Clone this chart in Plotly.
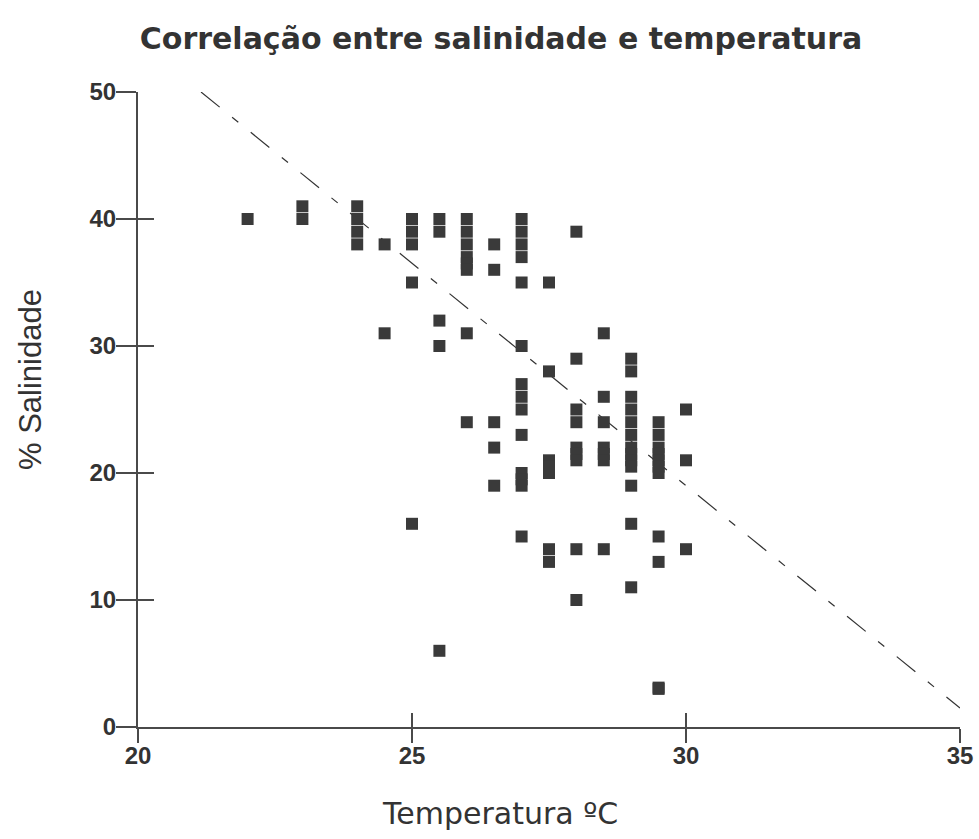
import plotly.graph_objects as go

# Temperature columns and salinity readings at each temperature
temp_22 = [40]
temp_23 = [41, 40]
temp_24 = [41, 40, 39, 38]
temp_24_5 = [38, 31]
temp_25 = [40, 39, 38, 35, 16]
temp_25_5 = [40, 39, 32, 30, 6]
temp_26 = [40, 39, 38, 37, 36.5, 36, 31, 24]
temp_26_5 = [38, 36, 24, 22, 19]
temp_27 = [40, 39, 38, 37, 35, 30, 27, 26, 25, 23, 20, 19.5, 19, 15]
temp_27_5 = [35, 28, 21, 20.5, 20, 14, 13]
temp_28 = [39, 29, 25, 24, 22, 21.5, 21, 14, 10]
temp_28_5 = [31, 26, 24, 22, 21.5, 21, 14]
temp_29 = [29, 28, 26, 25, 24, 23, 22, 21.5, 21, 20.5, 19, 16, 11]
temp_29_5 = [24, 23, 22, 21.5, 21, 20.5, 20, 15, 13, 3, 3.1]
temp_30 = [25, 21, 14]

temperatures = [22, 23, 24, 24.5, 25, 25.5, 26, 26.5, 27, 27.5, 28, 28.5, 29, 29.5, 30]
salinity_by_temp = [temp_22, temp_23, temp_24, temp_24_5, temp_25, temp_25_5, temp_26,
                    temp_26_5, temp_27, temp_27_5, temp_28, temp_28_5, temp_29, temp_29_5, temp_30]

# Trend line endpoints
trend_x = [21.15, 35]
trend_y = [50, 1.5]

x_ticks = [20, 25, 30, 35]
y_ticks = [0, 10, 20, 30, 40, 50]

pts_x, pts_y = [], []
for t, vals in zip(temperatures, salinity_by_temp):
    for v in vals:
        pts_x.append(t)
        pts_y.append(v)

AX = "#4a4a4a"
TXT = "#333333"

fig = go.Figure()
fig.add_trace(go.Scatter(
    x=trend_x, y=trend_y, mode="lines",
    line=dict(color="#333333", width=1.2, dash="24px,16px,8px,16px"),
    hoverinfo="skip", showlegend=False))
fig.add_trace(go.Scatter(
    x=pts_x, y=pts_y, mode="markers",
    marker=dict(symbol="square", size=12, color="#3a3a3a", line=dict(width=0)),
    showlegend=False))
# invisible trace to carry the overlay axes (inner halves of ticks)
fig.add_trace(go.Scatter(x=[None], y=[None], xaxis="x2", yaxis="y2",
                         mode="markers", showlegend=False, hoverinfo="skip"))

tickfont = dict(family="Liberation Sans, Arial, sans-serif", size=24, color=TXT, weight="bold")

fig.update_layout(
    width=979, height=839,
    margin=dict(l=138, r=19, t=92, b=112, autoexpand=False),
    paper_bgcolor="white", plot_bgcolor="white",
    title=dict(text="Correlação entre salinidade e temperatura",
               font=dict(family="DejaVu Sans, sans-serif", size=30, color=TXT, weight="bold"),
               xref="container", yref="container", x=501/979, y=1-38/839,
               xanchor="center", yanchor="middle"),
    xaxis=dict(range=[20, 35], tickvals=x_ticks, ticktext=[str(v) for v in x_ticks],
               showgrid=False, zeroline=False, showline=True, linecolor=AX, linewidth=2,
               ticks="outside", ticklen=14, tickwidth=1.5, tickcolor=AX, automargin=False,
               tickfont=tickfont, ticklabelstandoff=-8, fixedrange=True),
    yaxis=dict(range=[0, 50], tickvals=y_ticks, ticktext=[str(v) for v in y_ticks],
               showgrid=False, zeroline=False, showline=True, linecolor=AX, linewidth=2,
               ticks="outside", ticklen=20, tickwidth=1.5, tickcolor=AX, automargin=False,
               tickfont=tickfont, ticklabelstandoff=-5, fixedrange=True),
    xaxis2=dict(range=[20, 35], tickvals=x_ticks, overlaying="x", anchor="y",
                showgrid=False, zeroline=False, showline=False, showticklabels=False,
                ticks="inside", ticklen=14, tickwidth=1.5, tickcolor=AX, side="bottom"),
    yaxis2=dict(range=[0, 50], tickvals=y_ticks, overlaying="y", anchor="x",
                showgrid=False, zeroline=False, showline=False, showticklabels=False,
                ticks="inside", ticklen=16, tickwidth=1.5, tickcolor=AX, side="left"),
    annotations=[
        dict(text="Temperatura ºC", xref="paper", yref="paper",
             x=(500-138)/822, y=(727-813)/635, xanchor="center", yanchor="middle",
             showarrow=False,
             font=dict(family="DejaVu Sans, sans-serif", size=30, color=TXT)),
        dict(text="% Salinidade", xref="paper", yref="paper",
             x=(30-138)/822, y=(727-380)/635, xanchor="center", yanchor="middle",
             textangle=-90, showarrow=False,
             font=dict(family="Liberation Sans, Arial, sans-serif", size=31, color=TXT)),
    ],
)

fig.write_html("out.html")
